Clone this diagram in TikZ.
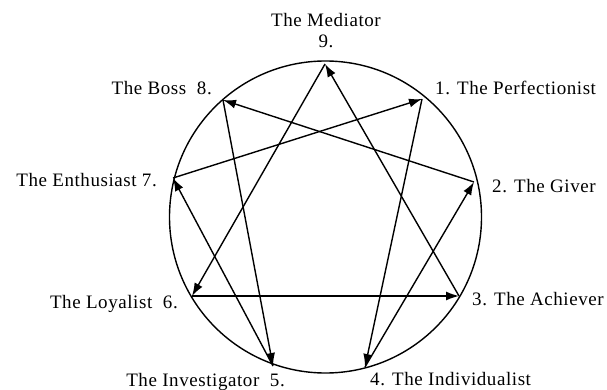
\documentclass[tikz,border=0pt]{standalone}
\usepackage{fontspec}
\setmainfont{Liberation Serif}[LetterSpace=3]
\usetikzlibrary{arrows.meta}

\begin{document}
\begin{tikzpicture}[
      x=1pt, y=-1pt,
      typelabel/.style={font=\fontsize{19}{21}\selectfont, inner sep=0pt},
      ring/.style={line width=1.4pt},
      arr/.style={-{Latex[length=13pt,width=9pt]}, line width=1.4pt}
  ]
    \useasboundingbox (0,0) rectangle (607,390);
    \draw[ring] (325.5,217) circle[radius=156];
    \coordinate (p9) at (325,64);
    \coordinate (p1) at (422,99);
    \coordinate (p2) at (474,182);
    \coordinate (p3) at (459,296);
    \coordinate (p4) at (365,367);
    \coordinate (p5) at (273,366);
    \coordinate (p6) at (192,296);
    \coordinate (p7) at (173,178);
    \coordinate (p8) at (223,100);
    \draw[arr] (p9) -- (p6);
    \draw[arr] (p6) -- (p3);
    \draw[arr] (p3) -- (p9);
    \draw[arr] (p1) -- (p4);
    \draw[arr] (p4) -- (p2);
    \draw[arr] (p2) -- (p8);
    \draw[arr] (p8) -- (p5);
    \draw[arr] (p5) -- (p7);
    \draw[arr] (p7) -- (p1);
    \node[typelabel, anchor=base] (lab9a) at (326,27) {The Mediator};
    \node[typelabel, anchor=base] (lab9b) at (326,48) {9.};
    \node[typelabel, anchor=base east] (lab8) at (212,95) {The Boss\ \ 8.};
    \node[typelabel, anchor=base west] (lab1) at (435,95) {1. The Perfectionist};
    \node[typelabel, anchor=base west] (lab2) at (492,193) {2. The Giver};
    \node[typelabel, anchor=base west] (lab3) at (472,305) {3. The Achiever};
    \node[typelabel, anchor=base west] (lab4) at (370,385) {4. The Individualist};
    \node[typelabel, anchor=base east] (lab5) at (285,386) {The Investigator\ \ 5.};
    \node[typelabel, anchor=base east] (lab6) at (178,308) {The Loyalist\ \ 6.};
    \node[typelabel, anchor=base east] (lab7) at (157,186) {The Enthusiast 7.};
  \end{tikzpicture}
\end{document}
